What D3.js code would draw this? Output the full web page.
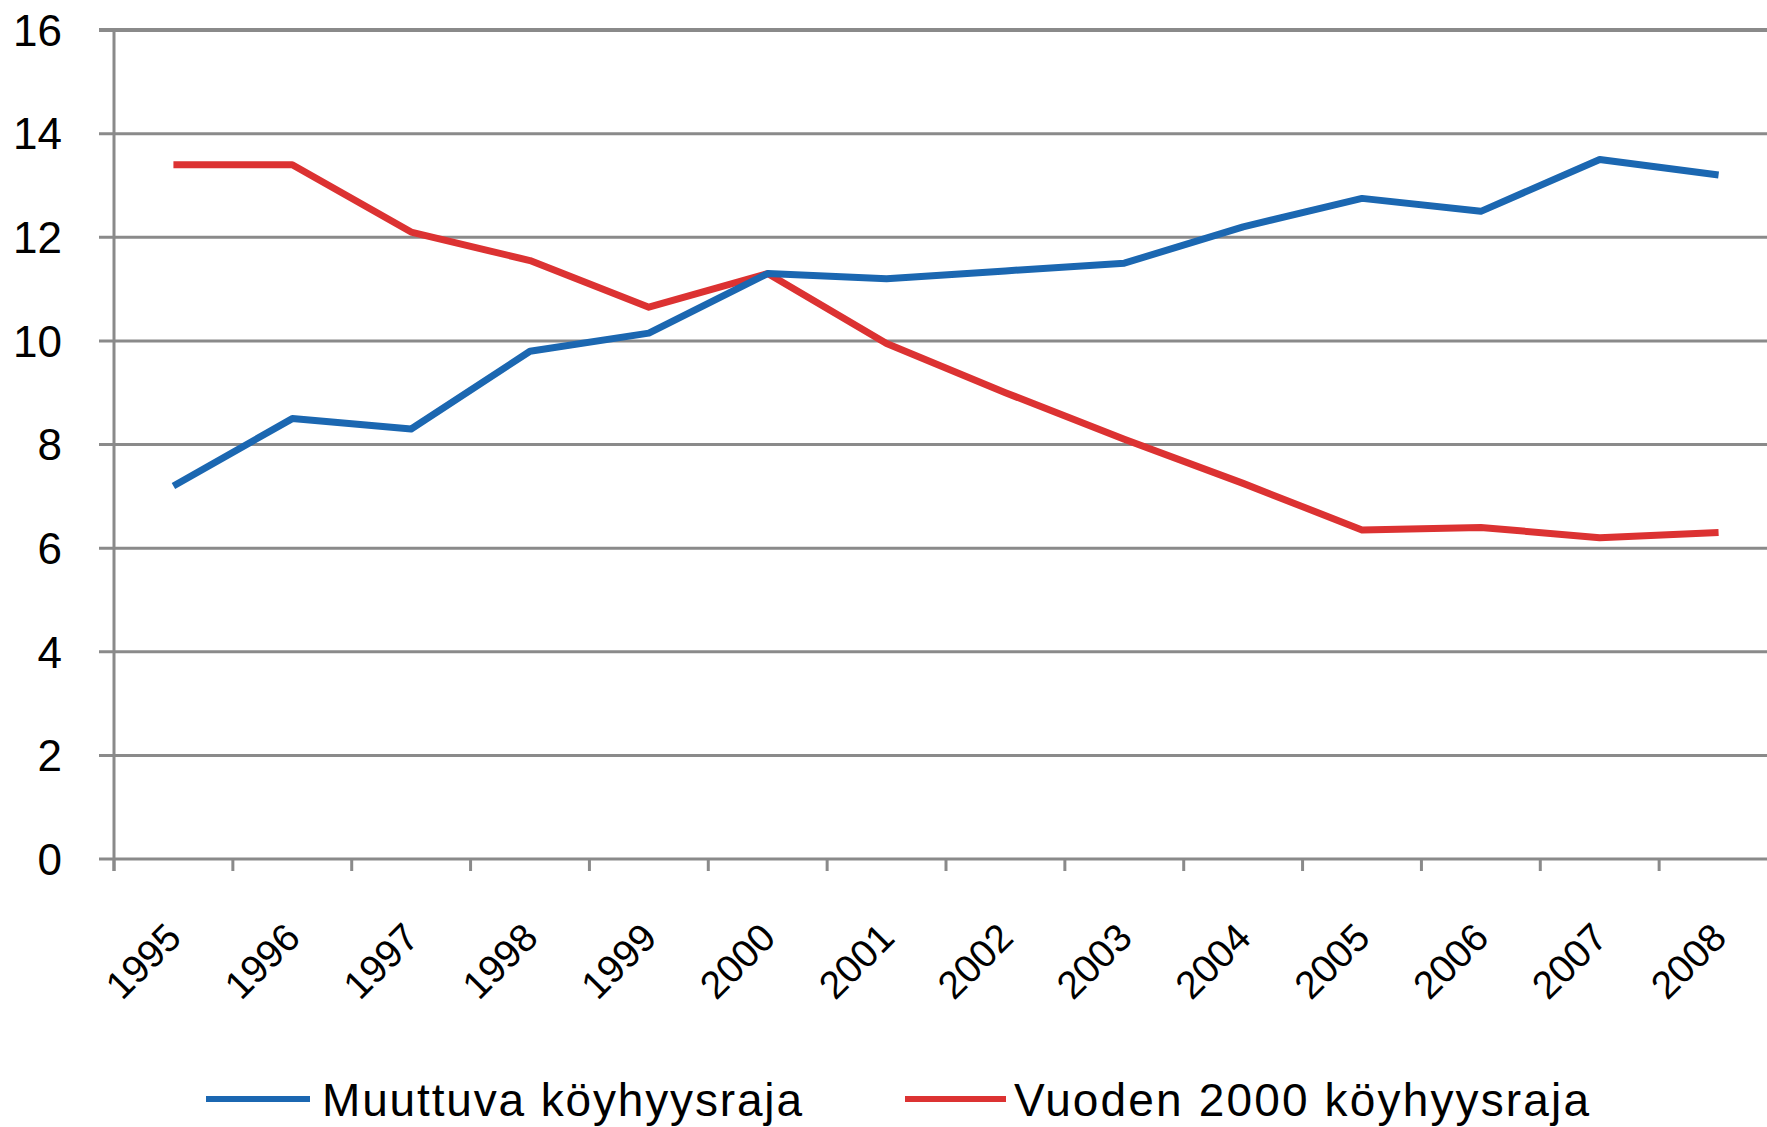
<!DOCTYPE html>
<html>
<head>
<meta charset="utf-8">
<script src="https://cdn.jsdelivr.net/npm/d3@7"></script>
<style>
  body { margin: 0; background: #fff; }
  svg { display: block; font-family: "Liberation Sans", Arial, sans-serif; }
</style>
</head>
<body>
<div id="chart"></div>
<script>
// data
const years = ["1995", "1996", "1997", "1998", "1999", "2000", "2001",
  "2002", "2003", "2004", "2005", "2006", "2007", "2008"];
const muuttuva = [7.2, 8.5, 8.3, 9.8, 10.15, 11.3, 11.2, 11.35, 11.5, 12.2, 12.75, 12.5, 13.5, 13.2];
const vuoden2000 = [13.4, 13.4, 12.1, 11.55, 10.65, 11.3, 9.95, 9.0, 8.1, 7.25, 6.35, 6.4, 6.2, 6.3];
const yTicks = [0, 2, 4, 6, 8, 10, 12, 14, 16];
const seriesNames = ["Muuttuva köyhyysraja", "Vuoden 2000 köyhyysraja"];

const width = 1767, height = 1127;
const blue = "#1b67b1", red = "#dc3232", grid = "#8a8a8a";

const svg = d3.select("#chart").append("svg")
  .attr("width", width).attr("height", height);

// scales
const x = d3.scaleBand().domain(years).range([114, 1778]);
const y = d3.scaleLinear().domain([0, 16]).range([859, 30]);
const cx = d => x(d) + x.bandwidth() / 2;

// gridlines
svg.append("g").selectAll("line")
  .data(yTicks)
  .join("line")
  .attr("x1", 99).attr("x2", width)
  .attr("y1", d => y(d)).attr("y2", d => y(d))
  .attr("stroke", grid)
  .attr("stroke-width", d => d === 16 ? 4 : 3);

// y axis line
svg.append("line")
  .attr("x1", 114).attr("x2", 114)
  .attr("y1", y(16)).attr("y2", y(0) + 12)
  .attr("stroke", grid).attr("stroke-width", 3);

// x ticks
svg.append("g").selectAll("line")
  .data(years)
  .join("line")
  .attr("x1", d => x(d)).attr("x2", d => x(d))
  .attr("y1", y(0)).attr("y2", y(0) + 12)
  .attr("stroke", grid).attr("stroke-width", 3);

// y labels
svg.append("g").selectAll("text")
  .data(yTicks)
  .join("text")
  .attr("x", 62)
  .attr("y", d => y(d))
  .attr("dy", "0.36em")
  .attr("text-anchor", "end")
  .attr("font-size", 44)
  .attr("fill", "#000")
  .text(d => d);

// x labels
svg.append("g").selectAll("text")
  .data(years)
  .join("text")
  .attr("transform", d => `translate(${cx(d) + 10},${940}) rotate(-45)`)
  .attr("text-anchor", "end")
  .attr("font-size", 39)
  .attr("fill", "#000")
  .text(d => d);

// lines
const line = d3.line()
  .x((d, i) => cx(years[i]))
  .y(d => y(d));

svg.append("path")
  .datum(vuoden2000)
  .attr("d", line)
  .attr("fill", "none")
  .attr("stroke", red)
  .attr("stroke-width", 7)
  .attr("stroke-linejoin", "round");

svg.append("path")
  .datum(muuttuva)
  .attr("d", line)
  .attr("fill", "none")
  .attr("stroke", blue)
  .attr("stroke-width", 7)
  .attr("stroke-linejoin", "round");

// legend
const legend = [
  { name: seriesNames[0], color: blue, x1: 206, x2: 310, tx: 322, tl: 480 },
  { name: seriesNames[1], color: red, x1: 905, x2: 1006, tx: 1014, tl: 575 }
];
const lg = svg.append("g").selectAll("g").data(legend).join("g");
lg.append("line")
  .attr("x1", d => d.x1).attr("x2", d => d.x2)
  .attr("y1", 1099).attr("y2", 1099)
  .attr("stroke", d => d.color).attr("stroke-width", 6);
lg.append("text")
  .attr("x", d => d.tx).attr("y", 1116)
  .attr("font-size", 46)
  .attr("textLength", d => d.tl)
  .attr("lengthAdjust", "spacing")
  .attr("fill", "#000")
  .text(d => d.name);
</script>
</body>
</html>
